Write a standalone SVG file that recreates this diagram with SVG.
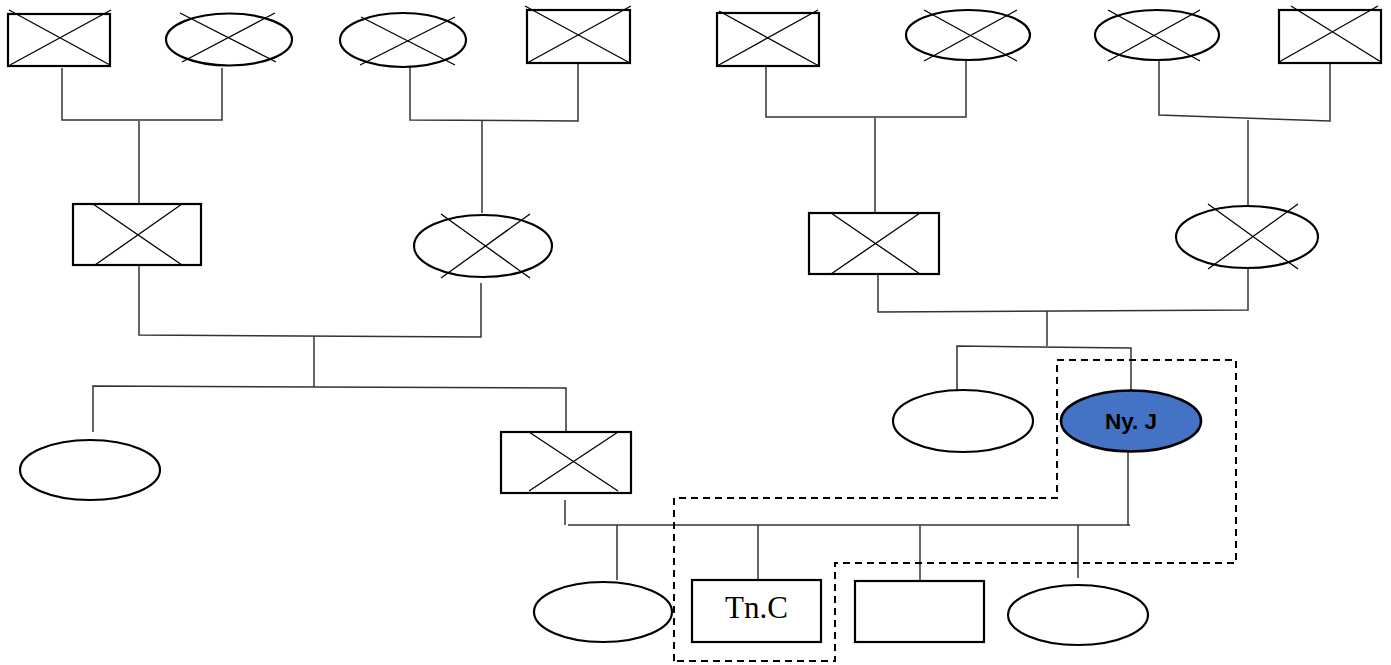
<svg xmlns="http://www.w3.org/2000/svg" width="1391" height="665" viewBox="0 0 1391 665">
<style>
.shape{fill:#fff;stroke:#000;stroke-width:2.2}
.cross{stroke:#000;stroke-width:1.3;fill:none}
.conn{stroke:#333;stroke-width:1.5;fill:none}
.dash{stroke:#000;stroke-width:2;fill:none;stroke-dasharray:7 5}
.lbl{font-family:"Liberation Serif",serif;font-size:31px;fill:#000}
.lblb{font-family:"Liberation Sans",Arial,sans-serif;font-size:22.5px;font-weight:bold;fill:#000}
</style>
<rect width="1391" height="665" fill="#fff"/>
<g id="connectors">
<path class="conn" d="M62 68V120H222V68"/>
<path class="conn" d="M139 121V204"/>
<path class="conn" d="M410 67V120L578 121V63"/>
<path class="conn" d="M482 121V213"/>
<path class="conn" d="M766 66V117H966V60"/>
<path class="conn" d="M875 118V213"/>
<path class="conn" d="M1159 60V115L1330 121V63"/>
<path class="conn" d="M1248 120V206"/>
<path class="conn" d="M139 265V335L481 337V283"/>
<path class="conn" d="M314 336V387"/>
<path class="conn" d="M93 432V386L566 388V432"/>
<path class="conn" d="M878 274V312L1248 310V268"/>
<path class="conn" d="M1047 311V346"/>
<path class="conn" d="M957 390V346L1131 348V390"/>
<path class="conn" d="M565 500V525"/>
<path class="conn" d="M568 525H1130"/>
<path class="conn" d="M1128 452V525"/>
<path class="conn" d="M617 525V580"/>
<path class="conn" d="M758 525V580"/>
<path class="conn" d="M920 525V581"/>
<path class="conn" d="M1078 525V578"/>
</g>
<g id="n1"><rect class="shape" x="8" y="14" width="102" height="52"/><path class="cross" d="M9 10L110 65M10 65L111 10"/></g>
<g id="n2"><ellipse class="shape" cx="229" cy="39.5" rx="63" ry="26"/><path class="cross" d="M180 13L276 62M182 62L275 13"/></g>
<g id="n3"><ellipse class="shape" cx="403" cy="40" rx="63" ry="27"/><path class="cross" d="M361 17L455 65M360 65L455 17"/></g>
<g id="n4"><rect class="shape" x="527" y="10" width="103" height="53"/><path class="cross" d="M525 6L630 63M527 63L631 6"/></g>
<g id="n5"><rect class="shape" x="717" y="13" width="102" height="53"/><path class="cross" d="M719 11L819 66M717 66L818 10"/></g>
<g id="n6"><ellipse class="shape" cx="968" cy="35" rx="62" ry="25"/><path class="cross" d="M924 10L1017 61M924 61L1017 10"/></g>
<g id="n7"><ellipse class="shape" cx="1157" cy="35" rx="62" ry="25"/><path class="cross" d="M1108 10L1200 61M1108 61L1200 10"/></g>
<g id="n8"><rect class="shape" x="1279" y="10" width="102" height="53"/><path class="cross" d="M1291 6L1381 62M1279 62L1378 6"/></g>
<g id="n9"><rect class="shape" x="73" y="204" width="128" height="61"/><path class="cross" d="M93 204L182 265M95 265L182 204"/></g>
<g id="n10"><ellipse class="shape" cx="483" cy="246" rx="69" ry="31"/><path class="cross" d="M441 214L530 278M441 278L530 214"/></g>
<g id="n11"><rect class="shape" x="809" y="213" width="130" height="61"/><path class="cross" d="M831 213L920 274M831 274L920 213"/></g>
<g id="n12"><ellipse class="shape" cx="1247" cy="237" rx="71" ry="31"/><path class="cross" d="M1208 204L1298 269M1208 269L1298 204"/></g>
<g id="n13"><ellipse class="shape" cx="90" cy="470" rx="70" ry="30"/></g>
<g id="n14"><rect class="shape" x="501" y="432" width="130" height="61"/><path class="cross" d="M529 432L618 491M529 491L618 432"/></g>
<g id="n15"><ellipse class="shape" cx="963" cy="421" rx="70" ry="31"/></g>
<g id="n16"><ellipse cx="1131" cy="421" rx="70" ry="30.5" fill="#4472C4" stroke="#000" stroke-width="2.6"/><text class="lblb" x="1131" y="429" text-anchor="middle">Ny. J</text></g>
<g id="n17"><ellipse class="shape" cx="603" cy="612" rx="69" ry="30"/></g>
<g id="n18"><rect class="shape" x="692" y="580" width="129" height="62" stroke-width="3"/><text class="lbl" x="756.5" y="618" text-anchor="middle">Tn.C</text></g>
<g id="n19"><rect class="shape" x="855" y="581" width="129" height="61"/></g>
<g id="n20"><ellipse class="shape" cx="1078" cy="615" rx="70" ry="30"/></g>
<g id="focus"><path class="dash" d="M674 661V498H1057V360H1236V563H835V661Z"/></g>
</svg>
